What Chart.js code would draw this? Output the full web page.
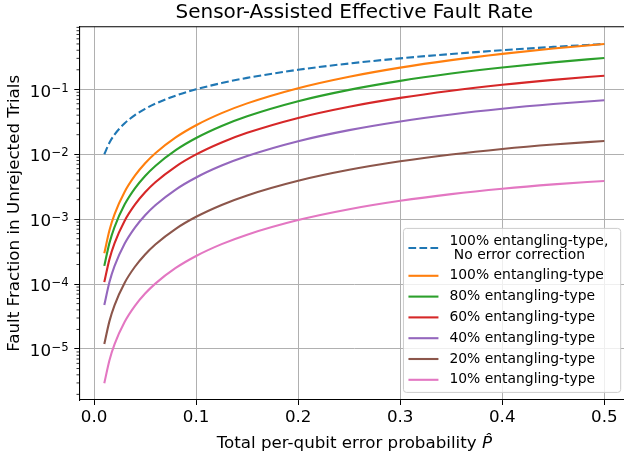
<!DOCTYPE html>
<html>
<head>
<meta charset="utf-8">
<script src="https://cdn.jsdelivr.net/npm/chart.js@4.4.1/dist/chart.umd.min.js"></script>
<style>
  html, body { margin: 0; padding: 0; background: #fff; overflow: hidden; }
  canvas { display: block; }
</style>
</head>
<body>
<canvas id="faultChart" width="632" height="461"></canvas>
<script>
// Total per-qubit error probability (x samples)
const pHat = [0.01, 0.015, 0.02, 0.03, 0.04, 0.05, 0.06, 0.08, 0.1, 0.125, 0.15, 0.2, 0.25, 0.3, 0.35, 0.4, 0.45, 0.5];

// Fault fraction in unrejected trials
const noCorrection = [0.01, 0.015, 0.02, 0.03, 0.04, 0.05, 0.06, 0.08, 0.1, 0.125, 0.15, 0.2, 0.25, 0.3, 0.35, 0.4, 0.45, 0.5];
const ent100 = [2.98e-4, 6.68e-4, 1.184e-3, 2.646e-3, 4.672e-3, 7.25e-3, 1.037e-2, 1.818e-2, 0.028, 0.04297, 0.06075, 0.104, 0.1563, 0.216, 0.2818, 0.352, 0.4253, 0.5];
const ent80 = [1.906e-4, 4.273e-4, 7.567e-4, 1.690e-3, 2.982e-3, 4.624e-3, 6.608e-3, 1.157e-2, 0.01779, 0.02725, 0.03845, 0.06554, 0.098, 0.1348, 0.1748, 0.2171, 0.2605, 0.304];
const ent60 = [1.071e-4, 2.401e-4, 4.251e-4, 9.487e-4, 1.673e-3, 2.592e-3, 3.701e-3, 6.470e-3, 0.009936, 0.01519, 0.02138, 0.03629, 0.054, 0.07387, 0.09526, 0.1175, 0.14, 0.162];
const ent40 = [4.758e-5, 1.066e-4, 1.887e-4, 4.208e-4, 7.414e-4, 1.148e-3, 1.638e-3, 2.859e-3, 0.004384, 0.006688, 0.009396, 0.01587, 0.0235, 0.03197, 0.04096, 0.05018, 0.05929, 0.068];
const ent20 = [1.189e-5, 2.662e-5, 4.710e-5, 1.050e-4, 1.848e-4, 2.86e-4, 4.078e-4, 7.107e-4, 0.001088, 0.001656, 0.002322, 0.003904, 0.00575, 0.007776, 0.009898, 0.01203, 0.01409, 0.016];
const ent10 = [2.971e-6, 6.652e-6, 1.177e-5, 2.622e-5, 4.614e-5, 7.138e-5, 1.017e-4, 1.772e-4, 2.71e-4, 4.121e-4, 5.771e-4, 9.68e-4, 1.422e-3, 1.917e-3, 2.432e-3, 2.944e-3, 3.432e-3, 3.875e-3];

const seriesLabels = [
  '100% entangling-type,\n No error correction',
  '100% entangling-type',
  '80% entangling-type',
  '60% entangling-type',
  '40% entangling-type',
  '20% entangling-type',
  '10% entangling-type'
];
const seriesValues = [noCorrection, ent100, ent80, ent60, ent40, ent20, ent10];
const seriesColors = ['#1f77b4', '#ff7f0e', '#2ca02c', '#d62728', '#9467bd', '#8c564b', '#e377c2'];

// tick labels
const xTicks = [0, 0.1, 0.2, 0.3, 0.4, 0.5];
const yTicks = [1e-5, 1e-4, 1e-3, 1e-2, 1e-1];

const FONT = '"DejaVu Sans"';
const DASH = [7.7, 3.3];

// minor log ticks, y tick labels as 10 with a raised exponent, top spine, x title, legend
const extrasPlugin = {
  id: 'extras',
  afterDraw(chart) {
    const { ctx, chartArea: a, scales } = chart;
    const ys = scales.y;
    ctx.save();

    // minor ticks on the log axis
    ctx.strokeStyle = '#000';
    ctx.lineWidth = 0.8;
    for (let n = -7; n <= 0; n++) {
      for (let k = 2; k <= 9; k++) {
        const v = k * Math.pow(10, n);
        if (v < ys.min || v > ys.max) continue;
        const y = ys.getPixelForValue(v);
        ctx.beginPath();
        ctx.moveTo(a.left - 2.8, y);
        ctx.lineTo(a.left, y);
        ctx.stroke();
      }
    }

    // y tick labels
    ctx.fillStyle = '#000';
    ctx.textBaseline = 'alphabetic';
    ctx.textAlign = 'left';
    ys.ticks.forEach(t => {
      const y = ys.getPixelForValue(t.value);
      const exp = '\u2212' + String(Math.abs(Math.round(Math.log10(t.value))));
      ctx.font = '16.7px ' + FONT;
      const wb = ctx.measureText('10').width;
      ctx.font = '11.7px ' + FONT;
      const we = ctx.measureText(exp).width;
      const x0 = a.left - 11 - wb - we;
      ctx.font = '16.7px ' + FONT;
      ctx.fillText('10', x0, y + 7.2);
      ctx.font = '11.7px ' + FONT;
      ctx.fillText(exp, x0 + wb + 0.5, y + 2.2);
    });

    // top and right spines
    ctx.lineWidth = 1.1;
    ctx.beginPath();
    ctx.moveTo(a.left, a.top);
    ctx.lineTo(a.right, a.top);
    ctx.lineTo(a.right, a.bottom);
    ctx.stroke();

    // x axis title with italic P-hat
    const t1 = 'Total per-qubit error probability ';
    const t2 = 'P\u0302';
    ctx.textBaseline = 'middle';
    ctx.font = '16.7px ' + FONT;
    const w1 = ctx.measureText(t1).width;
    ctx.font = 'italic 16.7px ' + FONT;
    const w2 = ctx.measureText(t2).width;
    const x0 = (a.left + a.right) / 2 - (w1 + w2) / 2;
    ctx.font = '16.7px ' + FONT;
    ctx.fillText(t1, x0, 444);
    ctx.font = 'italic 16.7px ' + FONT;
    ctx.fillText(t2, x0 + w1, 444);

    // legend, lower right inside the axes
    const fs = 13.9, lineH = 14, gap = 6.8, pad = 5.6;
    ctx.font = fs + 'px ' + FONT;
    const sets = chart.data.datasets;
    let maxW = 0, nLines = 0;
    sets.forEach(ds => {
      ds.label.split('\n').forEach(l => { maxW = Math.max(maxW, ctx.measureText(l).width); nLines++; });
    });
    const boxR = a.right - 8.6;
    const boxB = a.bottom - 7.6;
    const boxH = pad * 2 + nLines * lineH + (sets.length - 1) * gap;
    const textX = boxR - 12.4 - maxW;
    const hEnd = textX - 11;
    const hStart = hEnd - 30;
    const boxL = hStart - 5;
    const boxT = boxB - boxH;

    ctx.beginPath();
    ctx.roundRect(boxL, boxT, boxR - boxL, boxH, 3);
    ctx.fillStyle = 'rgba(255,255,255,0.8)';
    ctx.fill();
    ctx.strokeStyle = '#cccccc';
    ctx.lineWidth = 1;
    ctx.stroke();

    let y = boxT + pad;
    sets.forEach(ds => {
      const lines = ds.label.split('\n');
      const h = lines.length * lineH;
      ctx.strokeStyle = ds.borderColor;
      ctx.lineWidth = ds.borderWidth;
      ctx.setLineDash(ds.borderDash || []);
      ctx.beginPath();
      ctx.moveTo(hStart, y + h / 2);
      ctx.lineTo(hEnd, y + h / 2);
      ctx.stroke();
      ctx.setLineDash([]);
      ctx.fillStyle = '#000';
      lines.forEach((l, i) => ctx.fillText(l, textX, y + lineH * i + lineH / 2));
      y += h + gap;
    });

    ctx.restore();
  }
};

Chart.defaults.font.family = FONT;
Chart.defaults.color = '#000';

const ctx = document.getElementById('faultChart').getContext('2d');
const faultChart = new Chart(ctx, {
  type: 'line',
  data: {
    datasets: seriesValues.map((vals, i) => ({
      label: seriesLabels[i],
      data: pHat.map((p, j) => ({ x: p, y: vals[j] })),
      borderColor: seriesColors[i],
      backgroundColor: seriesColors[i],
      borderWidth: 2.1,
      borderDash: i === 0 ? DASH : [],
      pointRadius: 0,
      fill: false,
      cubicInterpolationMode: 'monotone',
      order: seriesValues.length - i
    }))
  },
  options: {
    responsive: false,
    animation: false,
    devicePixelRatio: 1,
    layout: { padding: { left: 0, top: 0, right: 2.7, bottom: 0 } },
    plugins: {
      legend: { display: false },
      tooltip: { enabled: false },
      title: {
        display: true,
        text: 'Sensor-Assisted Effective Fault Rate',
        fullSize: false,
        color: '#000',
        font: { size: 20, weight: 'normal' },
        padding: { top: 1, bottom: 1.7 }
      }
    },
    scales: {
      x: {
        type: 'linear',
        min: -0.0145,
        max: 0.5245,
        afterBuildTicks: s => { s.ticks = xTicks.map(v => ({ value: v })); },
        afterFit: s => { s.height = 61; },
        ticks: { callback: v => v.toFixed(1), font: { size: 16.7 }, padding: 3, maxRotation: 0, autoSkip: false },
        grid: { color: '#b0b0b0', lineWidth: 1, tickColor: '#000', tickLength: 5, tickWidth: 1 },
        border: { color: '#000', width: 1.1 }
      },
      y: {
        type: 'logarithmic',
        min: 1.637e-6,
        max: 0.922,
        afterBuildTicks: s => { s.ticks = yTicks.map(v => ({ value: v })); },
        afterFit: s => { s.width = 79.3; },
        ticks: { display: false },
        grid: { color: '#b0b0b0', lineWidth: 1, tickColor: '#000', tickLength: 5, tickWidth: 1 },
        border: { color: '#000', width: 1.1 },
        title: {
          display: true,
          text: 'Fault Fraction in Unrejected Trials',
          font: { size: 16.7 },
          padding: { top: 5, bottom: 0 }
        }
      }
    }
  },
  plugins: [extrasPlugin]
});
</script>
</body>
</html>
